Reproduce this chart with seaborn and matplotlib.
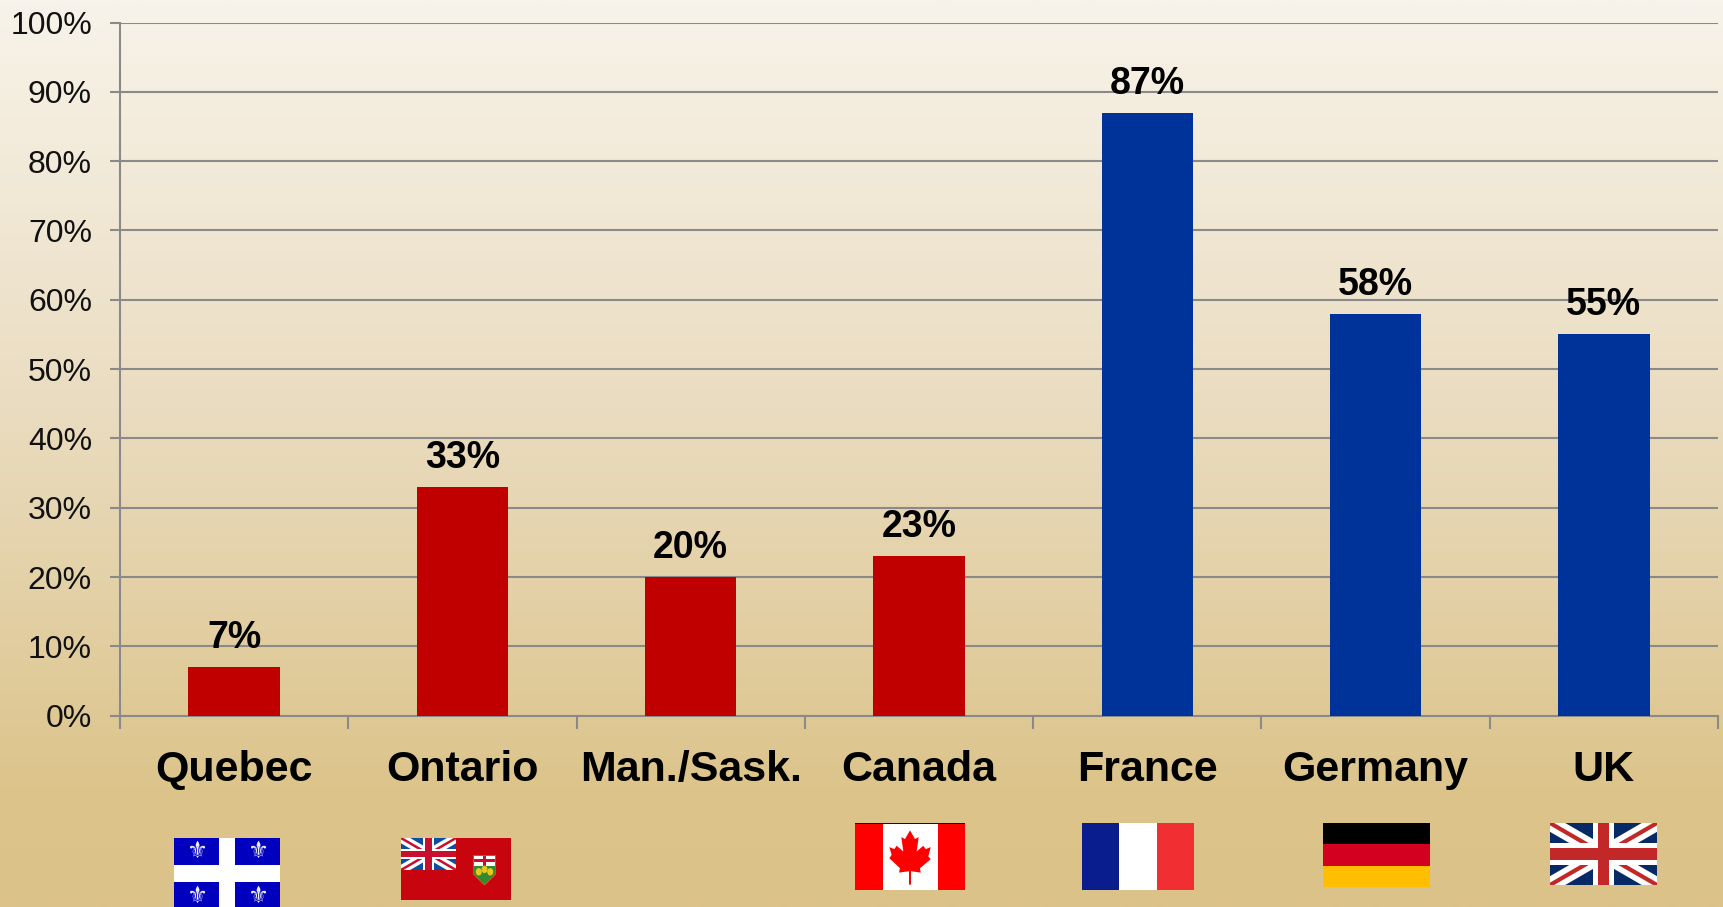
import numpy as np
import pandas as pd
import seaborn as sns
import matplotlib
matplotlib.use("Agg")
import matplotlib.pyplot as plt
from matplotlib.colors import LinearSegmentedColormap
from matplotlib.patches import Rectangle, Polygon, Circle

regions = ["Quebec", "Ontario", "Man./Sask.", "Canada", "France", "Germany", "UK"]
values = [7, 33, 20, 23, 87, 58, 55]
groups = ["north", "north", "north", "north", "europe", "europe", "europe"]
group_colors = {"north": "#C00000", "europe": "#003399"}
y_ticks = list(range(0, 101, 10))

W, H = 1723, 907
GRID = "#8A8A8A"

sns.set_theme(style="white")
plt.rcParams["font.family"] = ["Liberation Sans", "DejaVu Sans"]

fig = plt.figure(figsize=(W / 100, H / 100), dpi=100)


def px_axes(x0, y0, x1, y1, **kw):
    """Axes placed by pixel box, y measured from the top of the figure."""
    a = fig.add_axes([x0 / W, 1 - y1 / H, (x1 - x0) / W, (y1 - y0) / H], **kw)
    a.set_xlim(0, 1)
    a.set_ylim(1, 0)
    a.axis("off")
    return a


# Slide background: pale cream fading into tan
bg = fig.add_axes([0, 0, 1, 1], zorder=-1)
cmap = LinearSegmentedColormap.from_list(
    "slide",
    [(0.0, "#F6F3EB"), (0.03, "#F7F2E7"), (0.45, "#EADCC0"),
     (0.87, "#DCC48B"), (1.0, "#DBC288")],
)
bg.imshow(np.linspace(0, 1, 512)[:, None], aspect="auto", cmap=cmap, vmin=0, vmax=1)
bg.axis("off")

# Main chart
ax = fig.add_axes([120.0 / W, 1 - 715.7 / H, (1718 - 120.0) / W, (715.7 - 22.5) / H])
ax.patch.set_alpha(0)
df = pd.DataFrame({"region": regions, "share": values, "group": groups})
sns.barplot(data=df, x="region", y="share", hue="group", palette=group_colors,
            dodge=False, width=0.40, saturation=1, legend=False, ax=ax, zorder=3,
            edgecolor="none", linewidth=0)
ax.set_xlim(-0.5, len(regions) - 0.5)
ax.set_ylim(0, 100)
ax.set_xlabel("")
ax.set_ylabel("")

ax.set_yticks(y_ticks)
ax.set_yticklabels([f"{t}%" for t in y_ticks], fontsize=23, color="#111111")
ax.tick_params(axis="y", length=7.2, width=1.5, color=GRID, pad=13, left=True)
ax.grid(axis="y", color=GRID, linewidth=1.5, zorder=0)
ax.set_axisbelow(True)

ax.set_xticks(range(len(regions)))
ax.set_xticklabels(regions, fontsize=31, fontweight="bold", color="black")
ax.tick_params(axis="x", which="major", length=0, pad=24.5)
ax.set_xticks(np.arange(len(regions) + 1) - 0.5, minor=True)
ax.tick_params(axis="x", which="minor", length=9.5, width=1.5, color=GRID, bottom=True)

for side in ("top", "right"):
    ax.spines[side].set_visible(False)
for side in ("left", "bottom"):
    ax.spines[side].set_color(GRID)
    ax.spines[side].set_linewidth(1.5)

for bars in ax.containers:
    ax.bar_label(bars, fmt="%.0f%%", fontsize=27, fontweight="bold",
                 color="black", padding=8, zorder=5)


# Flags
def rect(a, x0, y0, x1, y1, color, z=1):
    a.add_patch(Rectangle((x0, y0), x1 - x0, y1 - y0, facecolor=color,
                          edgecolor="none", zorder=z))


def union_jack(a, navy, red, lw_scale=1.0):
    rect(a, 0, 0, 1, 1, navy)
    for xs in ([0, 1], [1, 0]):
        a.plot(xs, [0, 1], color="white", lw=11 * lw_scale, solid_capstyle="butt", zorder=2)
        a.plot(xs, [0, 1], color=red, lw=3 * lw_scale, solid_capstyle="butt", zorder=3)
    rect(a, 0.40, 0, 0.60, 1, "white", z=4)
    rect(a, 0, 0.33, 1, 0.67, "white", z=4)
    rect(a, 0.445, 0, 0.555, 1, red, z=5)
    rect(a, 0, 0.40, 1, 0.60, red, z=5)


# Quebec
q = px_axes(174, 838, 280, 909)
rect(q, 0, 0, 1, 1, "#0000BE")
rect(q, 0.42, 0, 0.58, 1, "white")
rect(q, 0, 0.38, 1, 0.62, "white")
for fx, fy in [(0.21, 0.19), (0.79, 0.19), (0.21, 0.81), (0.79, 0.81)]:
    q.text(fx, fy, "\u269c", color="#EDEDFF", fontsize=17, ha="center", va="center",
           family="DejaVu Sans")

# Ontario
o = px_axes(401, 838, 511, 900)
rect(o, 0, 0, 1, 1, "#C8050F")
union_jack(px_axes(401, 838, 456, 870), "#0B4EA2", "#C8102E", 0.6)
shield = px_axes(473, 855, 496, 885)
shield.add_patch(Polygon([(0, 0), (1, 0), (1, 0.62), (0.5, 1), (0, 0.62)],
                         facecolor="#2E8B2E", edgecolor="#B5761E", lw=0.6))
rect(shield, 0.03, 0.02, 0.97, 0.36, "white", z=2)
rect(shield, 0.42, 0.02, 0.58, 0.36, "#C8102E", z=3)
rect(shield, 0.03, 0.14, 0.97, 0.24, "#C8102E", z=3)
for sx, sy in [(0.25, 0.56), (0.5, 0.48), (0.75, 0.56)]:
    shield.add_patch(Circle((sx, sy), 0.1, color="#E8C81E", zorder=3))

# Canada
c = px_axes(855, 823, 965, 890)
rect(c, 0, 0, 1, 1, "white")
rect(c, 0, 0, 0.25, 1, "#FF0000", z=2)
rect(c, 0.75, 0, 1, 1, "#FF0000", z=2)
rect(c, 0, 0, 1, 0.012, "#400000", z=3)
leaf = [(240, 122), (255, 148), (266, 142), (260, 185), (280, 168), (287, 178), (302, 172),
        (295, 200), (302, 208), (270, 235), (272, 248), (243, 244), (243, 284), (237, 284),
        (237, 244), (207, 248), (210, 235), (178, 205), (185, 195), (178, 172), (193, 178),
        (200, 168), (220, 185), (214, 142), (225, 148)]
c.add_patch(Polygon([((lx - 75) / 330, (ly - 100) / 200) for lx, ly in leaf],
                    facecolor="#FF0000", edgecolor="none", zorder=3))

# France
f = px_axes(1082, 823, 1194, 890)
rect(f, 0, 0, 1 / 3, 1, "#0A1D8F")
rect(f, 1 / 3, 0, 2 / 3, 1, "white")
rect(f, 2 / 3, 0, 1, 1, "#F12F32")

# Germany
g = px_axes(1323, 823, 1430, 887)
rect(g, 0, 0, 1, 1 / 3, "black")
rect(g, 0, 1 / 3, 1, 2 / 3, "#D4001F")
rect(g, 0, 2 / 3, 1, 1, "#FFBE00")

# United Kingdom
union_jack(px_axes(1550, 823, 1657, 885), "#062A66", "#C22828")

fig.savefig("out.png", dpi=100)
